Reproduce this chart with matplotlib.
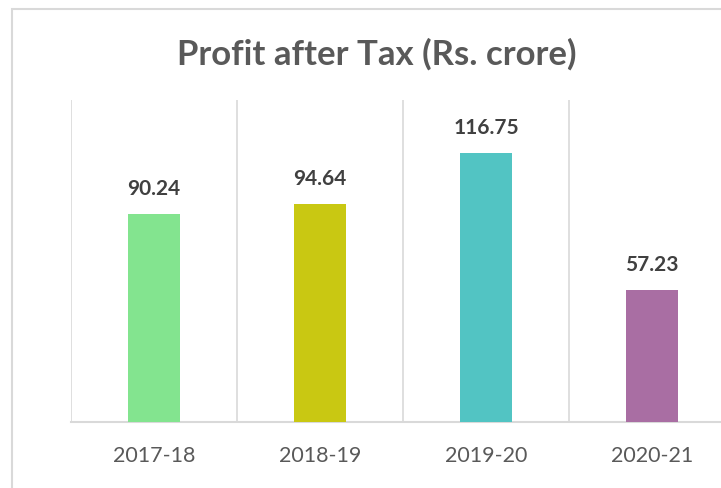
import matplotlib.pyplot as plt

years = ["2017-18", "2018-19", "2019-20", "2020-21"]
profit = [90.24, 94.64, 116.75, 57.23]
colors = ["#83E48F", "#C9C812", "#52C4C3", "#A96EA3"]

plt.rcParams['font.family'] = ['Lato', 'DejaVu Sans']

fig = plt.figure(figsize=(7.21, 4.88), dpi=100)
fig.patch.set_facecolor("white")

# outer chart frame (right and bottom edges fall outside the picture)
frame = plt.Rectangle((12 / 721, -0.2), 1.2, 1 - 9 / 488 + 0.2, transform=fig.transFigure,
                      fill=False, edgecolor="#D9D9D9", linewidth=1.5)
fig.add_artist(frame)

ax = fig.add_axes([71 / 721, 1 - 422 / 488, 664 / 721, 322 / 488])
x = range(len(years))
ax.bar(x, profit, width=0.315, color=colors, zorder=3)
ax.set_xlim(-0.5, 3.5)
ax.set_ylim(0, 139.7)

for i in [-0.5, 0.5, 1.5, 2.5, 3.5]:
    ax.axvline(i, color="#D9D9D9", linewidth=1.2, zorder=1)

for i, v in enumerate(profit):
    ax.annotate(f"{v:.2f}", (i, v), xytext=(0, 11), textcoords="offset points",
                ha="center", va="bottom", fontsize=15, fontweight="bold", color="#404040")

for s in ["top", "right", "left"]:
    ax.spines[s].set_visible(False)
ax.spines["bottom"].set_color("#D9D9D9")
ax.spines["bottom"].set_linewidth(1.5)
ax.set_yticks([])
ax.set_xticks(list(x))
ax.set_xticklabels(years, fontsize=15.5, color="#595959")
ax.tick_params(axis="x", length=0, pad=17)

fig.text(377 / 721, 1 - 54 / 488, "Profit after Tax (Rs. crore)", ha="center", va="center",
         fontsize=25, fontweight="bold", color="#595959")

fig.savefig("out.png", dpi=100)
